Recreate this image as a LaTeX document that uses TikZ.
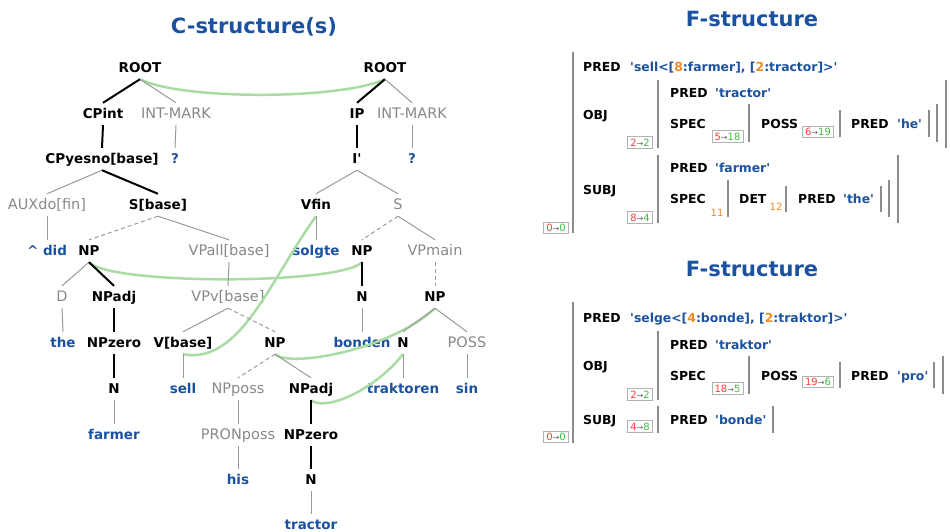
\documentclass[tikz,border=0pt]{standalone}
\usepackage{fontspec}
\setmainfont{DejaVu Sans}
\definecolor{tblue}{HTML}{1A52A0}
\definecolor{tgray}{HTML}{888888}
\definecolor{lgray}{HTML}{999999}
\definecolor{bgray}{HTML}{8C8C8C}
\definecolor{fgreen}{HTML}{A8DCA2}
\definecolor{nred}{HTML}{FF3B3B}
\definecolor{ngreen}{HTML}{3DBE3D}
\definecolor{norange}{HTML}{F08A24}
\newcommand\sq{\textquotesingle}
\newcommand\og[1]{\textcolor{norange}{#1}}
\newcommand\nb[2]{\textcolor{nred}{#1}{\fontsize{8}{9}\selectfont\textcolor{black!60}{→}}\textcolor{ngreen}{#2}}
\tikzset{
  basenode/.style={inner xsep=1pt, inner ysep=6.5pt, text height=9pt, text depth=0pt},
  hd/.style={basenode, font=\fontsize{13.5}{15}\selectfont\bfseries, text=black},
  nh/.style={basenode, font=\fontsize{14.5}{16}\selectfont, text=tgray},
  lx/.style={basenode, font=\fontsize{13.5}{15}\selectfont\bfseries, text=tblue},
  he/.style={draw=black, line width=2pt},
  ne/.style={draw=lgray, line width=1pt},
  de/.style={draw=lgray, line width=1pt, dash pattern=on 4pt off 3pt},
  gl/.style={draw=fgreen, line width=2.5pt},
  fl/.style={anchor=base west, yshift=-4.4pt, inner sep=0pt, font=\fontsize{12.4}{14}\selectfont\bfseries, text=black},
  fv/.style={fl, text=tblue},
  numbox/.style={draw=black!30, line width=0.8pt, inner xsep=2.5pt, inner ysep=2.2pt, text height=7.2pt, text depth=0pt, font=\fontsize{10}{11}\selectfont},
  idx/.style={inner sep=0pt, font=\fontsize{10}{11}\selectfont, text=norange},
  bar/.style={draw=bgray, line width=2pt},
  ttl/.style={anchor=base, inner sep=0pt, font=\fontsize{21}{24}\selectfont\bfseries, text=tblue},
}
\begin{document}
\begin{tikzpicture}[x=1pt, y=-1pt]
\useasboundingbox (0,0) rectangle (950,531);

% titles
\node[ttl] (t1) at (254,33) {C-structure(s)};
\node[ttl] (t2) at (752,26) {F-structure};
\node[ttl] (t3) at (752,276) {F-structure};

% ---------- left tree nodes
\node[hd] (lroot) at (140,68) {ROOT};
\node[hd] (lcpint) at (103,114) {CPint};
\node[nh] (lint) at (176,114) {INT-MARK};
\node[lx] (lq) at (175,159) {?};
\node[hd] (lcpy) at (102,159) {CPyesno[base]};
\node[nh] (laux) at (47,205) {AUXdo[fin]};
\node[hd] (ls) at (158,205) {S[base]};
\node[lx] (ldid) at (47,251) {\textasciicircum\ did};
\node[hd] (lnp) at (89,251) {NP};
\node[nh] (lvpall) at (229,251) {VPall[base]};
\node[nh] (ld) at (62,297) {D};
\node[hd] (lnpadj) at (114,297) {NPadj};
\node[nh] (lvpv) at (228,297) {VPv[base]};
\node[lx] (lthe) at (63,343) {the};
\node[hd] (lnpzero) at (114,343) {NPzero};
\node[hd] (lvb) at (183,343) {V[base]};
\node[hd] (lnp2) at (275,343) {NP};
\node[hd] (ln) at (114,389) {N};
\node[lx] (lsell) at (183,389) {sell};
\node[nh] (lnpposs) at (238,389) {NPposs};
\node[hd] (lnpadj2) at (311,389) {NPadj};
\node[lx] (lfarmer) at (114,435) {farmer};
\node[nh] (lpron) at (238,435) {PRONposs};
\node[hd] (lnpzero2) at (311,435) {NPzero};
\node[lx] (lhis) at (238,480) {his};
\node[hd] (ln2) at (311,480) {N};
\node[lx] (ltractor) at (311,525) {tractor};

% ---------- right tree nodes
\node[hd] (rroot) at (385,68) {ROOT};
\node[hd] (rip) at (357,114) {IP};
\node[nh] (rint) at (412,114) {INT-MARK};
\node[hd] (ribar) at (357,159) {I\sq};
\node[lx] (rq) at (412,159) {?};
\node[hd] (rvfin) at (316,205) {Vfin};
\node[nh] (rs) at (398,205) {S};
\node[lx] (rsolgte) at (316,251) {solgte};
\node[hd] (rnp) at (362,251) {NP};
\node[nh] (rvpmain) at (435,251) {VPmain};
\node[hd] (rn) at (362,297) {N};
\node[hd] (rnp2) at (435,297) {NP};
\node[lx] (rbonden) at (362,343) {bonden};
\node[hd] (rn2) at (403,343) {N};
\node[nh] (rposs) at (467,343) {POSS};
\node[lx] (rtrak) at (403,389) {traktoren};
\node[lx] (rsin) at (467,389) {sin};

% ---------- green correspondence curves
\draw[gl] (lroot.south) .. controls (180,100) and (340,100) .. (rroot.south);
\draw[gl] (lnp.south) .. controls (110,285) and (340,285) .. (rnp.south);
\draw[gl] (rvfin.south) .. controls (270,280) and (240,365) .. (lvb.south);
\draw[gl] (lnp2.south) .. controls (290,368) and (390,350) .. (rnp2.south);
\draw[gl] (lnpadj2.south) .. controls (325,412) and (375,390) .. (rn2.south);

% ---------- left tree edges
\draw[he] (lroot.south) -- (lcpint.north);
\draw[ne] (lroot.south) -- (lint.north);
\draw[he] (lcpint.south) -- (lcpy.north);
\draw[ne] (lint.south) -- (lq.north);
\draw[ne] (lcpy.south) -- (laux.north);
\draw[he] (lcpy.south) -- (ls.north);
\draw[ne] (laux.south) -- (ldid.north);
\draw[de] (ls.south) -- (lnp.north);
\draw[ne] (ls.south) -- (lvpall.north);
\draw[ne] (lnp.south) -- (ld.north);
\draw[he] (lnp.south) -- (lnpadj.north);
\draw[ne] (lvpall.south) -- (lvpv.north);
\draw[ne] (ld.south) -- (lthe.north);
\draw[he] (lnpadj.south) -- (lnpzero.north);
\draw[ne] (lvpv.south) -- (lvb.north);
\draw[de] (lvpv.south) -- (lnp2.north);
\draw[he] (lnpzero.south) -- (ln.north);
\draw[ne] (lvb.south) -- (lsell.north);
\draw[de] (lnp2.south) -- (lnpposs.north);
\draw[ne] (lnp2.south) -- (lnpadj2.north);
\draw[ne] (ln.south) -- (lfarmer.north);
\draw[ne] (lnpposs.south) -- (lpron.north);
\draw[he] (lnpadj2.south) -- (lnpzero2.north);
\draw[ne] (lpron.south) -- (lhis.north);
\draw[he] (lnpzero2.south) -- (ln2.north);
\draw[ne] (ln2.south) -- (ltractor.north);

% ---------- right tree edges
\draw[he] (rroot.south) -- (rip.north);
\draw[ne] (rroot.south) -- (rint.north);
\draw[he] (rip.south) -- (ribar.north);
\draw[ne] (rint.south) -- (rq.north);
\draw[ne] (ribar.south) -- (rvfin.north);
\draw[ne] (ribar.south) -- (rs.north);
\draw[ne] (rvfin.south) -- (rsolgte.north);
\draw[de] (rs.south) -- (rnp.north);
\draw[ne] (rs.south) -- (rvpmain.north);
\draw[he] (rnp.south) -- (rn.north);
\draw[de] (rvpmain.south) -- (rnp2.north);
\draw[ne] (rn.south) -- (rbonden.north);
\draw[ne] (rnp2.south) -- (rn2.north);
\draw[ne] (rnp2.south) -- (rposs.north);
\draw[ne] (rn2.south) -- (rtrak.north);
\draw[ne] (rposs.south) -- (rsin.north);

% ---------- F-structure 1
\draw[bar] (573,52) -- (573,233);
\draw[bar] (658,80) -- (658,148);
\draw[bar] (749,104) -- (749,142);
\draw[bar] (840,110) -- (840,137);
\draw[bar] (929,110) -- (929,137);
\draw[bar] (937,104) -- (937,142);
\draw[bar] (946,80) -- (946,148);
\draw[bar] (658,155) -- (658,223);
\draw[bar] (728,180) -- (728,217);
\draw[bar] (786,186) -- (786,212);
\draw[bar] (881,186) -- (881,212);
\draw[bar] (889,180) -- (889,217);
\draw[bar] (898,155) -- (898,223);

\node[fl] (a1) at (583,67) {PRED};
\node[fv] (a2) at (630,67) {\sq sell<[\og{8}:farmer], [\og{2}:tractor]>\sq};
\node[fl] (a3) at (583,115) {OBJ};
\node[fl] (a4) at (670,93) {PRED};
\node[fv] (a5) at (715,93) {\sq tractor\sq};
\node[fl] (a6) at (670,124) {SPEC};
\node[fl] (a7) at (761,124) {POSS};
\node[fl] (a8) at (851,124) {PRED};
\node[fv] (a9) at (897,124) {\sq he\sq};
\node[fl] (a10) at (583,190) {SUBJ};
\node[fl] (a11) at (670,168) {PRED};
\node[fv] (a12) at (715,168) {\sq farmer\sq};
\node[fl] (a13) at (670,199) {SPEC};
\node[fl] (a14) at (739,199) {DET};
\node[fl] (a15) at (798,199) {PRED};
\node[fv] (a16) at (843,199) {\sq the\sq};
\node[idx] (a17) at (717,213) {11};
\node[idx] (a18) at (776,207) {12};
\node[numbox] (b1) at (556,228) {\nb{0}{0}};
\node[numbox] (b2) at (640,142.5) {\nb{2}{2}};
\node[numbox] (b3) at (640,217.5) {\nb{8}{4}};
\node[numbox] (b4) at (727.5,136.5) {\nb{5}{18}};
\node[numbox] (b5) at (818,132) {\nb{6}{19}};

% ---------- F-structure 2
\draw[bar] (573,302) -- (573,443);
\draw[bar] (658,331) -- (658,400);
\draw[bar] (749,356) -- (749,394);
\draw[bar] (840,362) -- (840,388);
\draw[bar] (934,362) -- (934,388);
\draw[bar] (943,356) -- (943,394);
\draw[bar] (658,406) -- (658,433);
\draw[bar] (773,406) -- (773,433);

\node[fl] (c1) at (583,318) {PRED};
\node[fv] (c2) at (630,318) {\sq selge<[\og{4}:bonde], [\og{2}:traktor]>\sq};
\node[fl] (c3) at (583,366) {OBJ};
\node[fl] (c4) at (670,345) {PRED};
\node[fv] (c5) at (715,345) {\sq traktor\sq};
\node[fl] (c6) at (670,376) {SPEC};
\node[fl] (c7) at (761,376) {POSS};
\node[fl] (c8) at (851,376) {PRED};
\node[fv] (c9) at (897,376) {\sq pro\sq};
\node[fl] (c10) at (583,420) {SUBJ};
\node[fl] (c11) at (670,420) {PRED};
\node[fv] (c12) at (715,420) {\sq bonde\sq};
\node[numbox] (d1) at (556,437) {\nb{0}{0}};
\node[numbox] (d2) at (640,394.5) {\nb{2}{2}};
\node[numbox] (d3) at (727.5,388.5) {\nb{18}{5}};
\node[numbox] (d4) at (818,382) {\nb{19}{6}};
\node[numbox] (d5) at (640,426.5) {\nb{4}{8}};
\end{tikzpicture}
\end{document}
